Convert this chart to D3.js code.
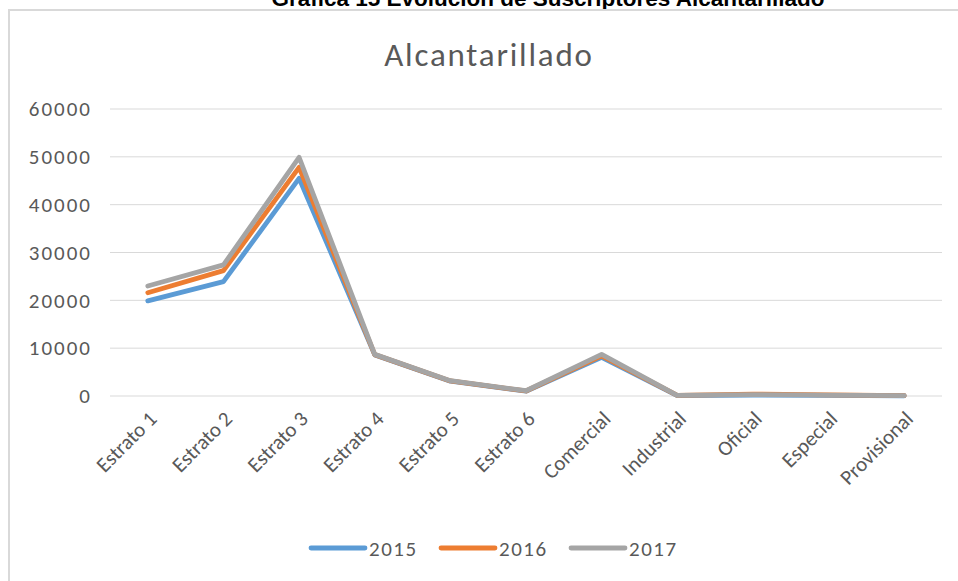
<!DOCTYPE html>
<html>
<head>
<meta charset="utf-8">
<script src="https://cdn.jsdelivr.net/npm/d3@7"></script>
<style>
  body { margin: 0; background: #fff; }
  text { font-family: Carlito, Lato, "Open Sans", sans-serif; }
</style>
</head>
<body>
<script>
var categories = ["Estrato 1", "Estrato 2", "Estrato 3", "Estrato 4", "Estrato 5", "Estrato 6",
    "Comercial", "Industrial", "Oficial", "Especial", "Provisional"];
var years = ["2015", "2016", "2017"];
var values2015 = [19900, 23900, 45500, 8600, 3100, 1000, 8100, 100, 200, 150, 50];
var values2016 = [21600, 26200, 47800, 8650, 3150, 1050, 8400, 120, 400, 250, 60];
var values2017 = [23000, 27400, 49900, 8700, 3200, 1100, 8700, 120, 300, 200, 60];
var yTicks = [0, 10000, 20000, 30000, 40000, 50000, 60000];
var colors = ["#5b9bd5", "#ed7d31", "#a5a5a5"];

var width = 958, height = 581;
var plotLeft = 110, plotRight = 942, plotTop = 109, plotBottom = 396;

var svg = d3.select('body').append('svg').attr('width', width).attr('height', height);

// outer caption (cut off at top)
svg.append('text')
    .attr('x', 548).attr('y', 6)
    .attr('text-anchor', 'middle')
    .style('font-family', 'Liberation Sans, Arial, sans-serif')
    .style('font-weight', 'bold')
    .style('font-size', '22.5px')
    .attr('fill', '#000')
    .text('Gráfica 15 Evolución de Suscriptores Alcantarillado');

// chart border
svg.append('rect')
    .attr('x', 9).attr('y', 10)
    .attr('width', 1000).attr('height', 600)
    .attr('fill', '#fff').attr('stroke', '#d9d9d9').attr('stroke-width', 2);

var x = d3.scaleBand().domain(categories).range([plotLeft, plotRight]);
var y = d3.scaleLinear().domain([0, 60000]).range([plotBottom, plotTop]);

// gridlines
svg.append('g').selectAll('line').data(yTicks).enter().append('line')
    .attr('x1', plotLeft).attr('x2', plotRight)
    .attr('y1', function (d) { return y(d); })
    .attr('y2', function (d) { return y(d); })
    .attr('stroke', '#d9d9d9').attr('stroke-width', 1);

// y axis labels
var yAxis = svg.append('g')
    .attr('transform', 'translate(' + (plotLeft - 18) + ',0)')
    .call(d3.axisLeft(y).tickValues(yTicks).tickSize(0).tickPadding(0).tickFormat(d3.format('d')));
yAxis.select('.domain').remove();
yAxis.selectAll('text')
    .style('font-family', 'Carlito, Lato, "Open Sans", sans-serif')
    .style('font-size', '21px')
    .style('letter-spacing', '2px')
    .attr('fill', '#595959');

// x axis labels
var xAxis = svg.append('g')
    .attr('transform', 'translate(0,' + plotBottom + ')')
    .call(d3.axisBottom(x).tickSize(0).tickPadding(0));
xAxis.select('.domain').remove();
xAxis.selectAll('text')
    .style('font-family', 'Carlito, Lato, "Open Sans", sans-serif')
    .style('font-size', '21px')
    .attr('fill', '#595959')
    .attr('text-anchor', 'end')
    .attr('y', 0)
    .attr('dy', '0.35em')
    .attr('transform', 'translate(5,19) rotate(-45)');

// chart title
svg.append('text')
    .attr('x', 489).attr('y', 66)
    .attr('text-anchor', 'middle')
    .style('font-size', '33px')
    .style('letter-spacing', '1.8px')
    .attr('fill', '#595959')
    .text('Alcantarillado');

// lines
var series = [values2015, values2016, values2017];
var line = d3.line()
    .x(function (d, i) { return x(categories[i]) + x.bandwidth() / 2; })
    .y(function (d) { return y(d); });

for (var i = 0; i < series.length; i++) {
    svg.append('path')
        .datum(series[i])
        .attr('fill', 'none')
        .attr('stroke', colors[i])
        .attr('stroke-width', 4.8)
        .attr('stroke-linejoin', 'round')
        .attr('stroke-linecap', 'round')
        .attr('d', line);
}

// legend
var legendX = [311, 441, 571];
var legend = svg.append('g').selectAll('g').data(years).enter().append('g')
    .attr('transform', function (d, i) { return 'translate(' + legendX[i] + ',548)'; });
legend.append('line')
    .attr('x1', 0).attr('x2', 54)
    .attr('stroke', function (d, i) { return colors[i]; })
    .attr('stroke-width', 4.8)
    .attr('stroke-linecap', 'round');
legend.append('text')
    .attr('x', 58).attr('y', 7.5)
    .style('font-size', '21px')
    .style('letter-spacing', '1.5px')
    .attr('fill', '#595959')
    .text(function (d) { return d; });
</script>
</body>
</html>
